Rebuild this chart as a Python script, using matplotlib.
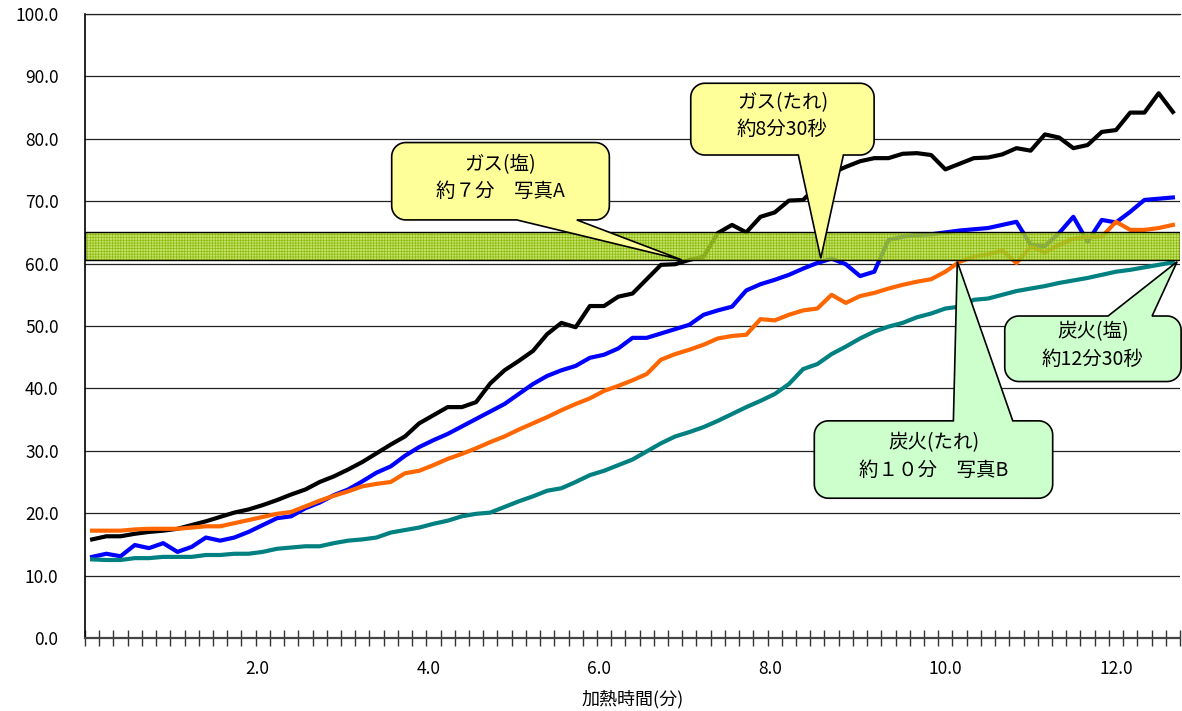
import numpy as np
import matplotlib
matplotlib.use("Agg")
import matplotlib.pyplot as plt
import matplotlib.transforms as mtransforms
from matplotlib.patches import Rectangle, Polygon

plt.rcParams['font.family'] = ['Noto Sans CJK JP', 'DejaVu Sans']
plt.rcParams['hatch.linewidth'] = 0.5

# 10秒ごとの測定 (分)
n_pts = 77
t = np.arange(n_pts) / 6.0

gas_shio = [15.8, 16.3, 16.3, 16.7, 17.0, 17.2, 17.5, 18.1, 18.7, 19.4,
            20.1, 20.6, 21.3, 22.1, 23.0, 23.8, 25.0, 25.9, 27.0, 28.2,
            29.6, 31.0, 32.3, 34.4, 35.7, 37.0, 37.0, 37.8, 40.8, 42.9,
            44.4, 46.0, 48.7, 50.5, 49.8, 53.2, 53.2, 54.7, 55.2, 57.5,
            59.8, 59.9, 60.6, 61.1, 64.9, 66.2, 65.0, 67.5, 68.2, 70.1,
            70.2, 72.5, 74.5, 75.5, 76.4, 76.9, 76.9, 77.6, 77.7, 77.4,
            75.1, 76.0, 76.9, 77.0, 77.5, 78.5, 78.1, 80.7, 80.2, 78.5,
            79.0, 81.1, 81.4, 84.2, 84.2, 87.3, 84.3]

gas_tare = [13.0, 13.5, 13.1, 14.9, 14.4, 15.2, 13.8, 14.6, 16.1, 15.6,
            16.1, 17.0, 18.1, 19.2, 19.5, 20.8, 21.7, 22.9, 23.8, 25.1,
            26.5, 27.5, 29.2, 30.6, 31.7, 32.7, 33.9, 35.1, 36.3, 37.5,
            39.1, 40.7, 42.0, 42.9, 43.6, 44.9, 45.4, 46.4, 48.1, 48.1,
            48.8, 49.5, 50.2, 51.8, 52.5, 53.1, 55.7, 56.7, 57.4, 58.2,
            59.2, 60.1, 60.8, 59.9, 58.0, 58.7, 63.8, 64.3, 64.6, 64.7,
            65.0, 65.3, 65.5, 65.7, 66.2, 66.7, 63.0, 62.8, 64.9, 67.5,
            63.5, 67.0, 66.6, 68.3, 70.2, 70.4, 70.6]

sumi_tare = [17.2, 17.2, 17.2, 17.4, 17.5, 17.5, 17.5, 17.7, 17.9, 17.9,
             18.4, 18.9, 19.4, 19.9, 20.2, 21.1, 22.0, 22.8, 23.5, 24.3,
             24.7, 25.0, 26.4, 26.8, 27.7, 28.7, 29.5, 30.4, 31.4, 32.3,
             33.4, 34.4, 35.4, 36.5, 37.5, 38.4, 39.6, 40.4, 41.3, 42.3,
             44.6, 45.5, 46.2, 47.0, 48.0, 48.4, 48.6, 51.1, 50.9, 51.8,
             52.5, 52.8, 55.0, 53.7, 54.8, 55.3, 56.0, 56.6, 57.1, 57.5,
             58.7, 60.3, 61.1, 61.5, 62.1, 60.1, 62.7, 61.8, 63.0, 64.0,
             64.3, 64.3, 66.7, 65.4, 65.4, 65.7, 66.2]

sumi_shio = [12.6, 12.5, 12.5, 12.8, 12.8, 13.0, 13.0, 13.0, 13.3, 13.3,
             13.5, 13.5, 13.8, 14.3, 14.5, 14.7, 14.7, 15.2, 15.6, 15.8,
             16.1, 16.9, 17.3, 17.7, 18.3, 18.8, 19.5, 19.9, 20.1, 21.0,
             21.9, 22.7, 23.6, 24.0, 25.0, 26.1, 26.8, 27.7, 28.6, 29.9,
             31.2, 32.3, 33.0, 33.8, 34.8, 35.9, 37.0, 38.0, 39.1, 40.7,
             43.1, 43.9, 45.5, 46.7, 48.0, 49.1, 49.9, 50.5, 51.4, 52.0,
             52.8, 53.1, 54.2, 54.4, 55.0, 55.6, 56.0, 56.4, 56.9, 57.3,
             57.7, 58.2, 58.7, 59.0, 59.4, 59.8, 60.2]

x_labels = [2.0, 4.0, 6.0, 8.0, 10.0, 12.0]
band_lo, band_hi = 60.5, 65.1

# 吹き出し: 箱(x0, x1, y0, y1), 付け根(b0, b1), 先端, 付け根の辺, 文字, 色
callouts = [
    ((3.511, 6.062, 67.0, 79.4), (4.977, 5.680), (6.91, 60.6), 'bottom',
     'ガス(塩)\n約７分　写真A', '#ffff99'),
    ((7.016, 9.165, 77.4, 88.9), (8.277, 8.805), (8.54, 60.85), 'bottom',
     'ガス(たれ)\n約8分30秒', '#ffff99'),
    ((8.464, 11.258, 22.4, 34.8), (10.094, 10.79), (10.14, 60.3), 'top',
     '炭火(たれ)\n約１０分　写真B', '#ccffcc'),
    ((10.696, 12.763, 41.1, 51.6), (11.907, 12.423), (12.716, 60.3), 'top',
     '炭火(塩)\n約12分30秒', '#ccffcc'),
]

fig = plt.figure(figsize=(11.82, 7.11), dpi=100)
ax = fig.add_axes([85 / 1182, 73 / 711, 1095 / 1182, 624 / 711])

xmin, xmax = -0.5 / 6, (n_pts - 0.5) / 6
ax.set_xlim(xmin, xmax)
ax.set_ylim(0, 100)

ax.plot(t, gas_shio, color='black', lw=3, zorder=2)
ax.plot(t, gas_tare, color='#0000ff', lw=3, zorder=2)
ax.plot(t, sumi_tare, color='#ff6600', lw=3, zorder=2)
ax.plot(t, sumi_shio, color='#008080', lw=3, zorder=2)

# 60-65 の帯
ax.add_patch(Rectangle((xmin, band_lo), xmax - xmin, band_hi - band_lo,
                       facecolor='#b5d838', edgecolor='none', alpha=0.75, zorder=3))
ax.add_patch(Rectangle((xmin, band_lo), xmax - xmin, band_hi - band_lo,
                       fill=False, hatch='++++++', edgecolor='#8cbc10', lw=0, zorder=3))
ax.add_patch(Rectangle((xmin, band_lo), xmax - xmin, band_hi - band_lo,
                       fill=False, edgecolor='black', lw=1.0, zorder=3))

# 軸
ax.set_yticks(np.arange(0, 101, 10))
ax.set_yticklabels([f'{v:.1f}' for v in np.arange(0, 101, 10)], fontsize=12.5)
ax.tick_params(axis='y', length=0, pad=19)
ax.yaxis.grid(True, color='#222222', lw=0.9)
ax.set_axisbelow(True)

ax.set_xticks(x_labels)
ax.set_xticklabels([f'{v:.1f}' for v in x_labels], fontsize=12.5)
ax.set_xticks((np.arange(n_pts + 1) - 0.5) / 6, minor=True)
ax.tick_params(axis='x', which='major', length=0, pad=16)
ax.tick_params(axis='x', which='minor', direction='inout', length=11,
               width=1, color='#333333')
for v, lab in zip(x_labels, ax.get_xticklabels()):
    if v < 10:
        lab.set_transform(lab.get_transform() +
                          mtransforms.ScaledTranslation(-5 / 100, 0, fig.dpi_scale_trans))

ax.spines['right'].set_visible(False)
ax.spines['top'].set_color('#222222')
ax.spines['top'].set_linewidth(0.9)
ax.spines['left'].set_color('black')
ax.spines['left'].set_linewidth(1.2)
ax.spines['bottom'].set_color('#444444')
ax.spines['bottom'].set_linewidth(1.6)

fig.text(632.5 / 1182, 1 - 699 / 711, '加熱時間(分)', ha='center', va='center',
         fontsize=13)

# 吹き出し
px_x = 1095 / (xmax - xmin)
px_y = 624 / 100.0
R = 14
rx, ry = R / px_x, R / px_y


def arc(pts, cx, cy, a0, a1):
    for a in np.linspace(a0, a1, 12):
        pts.append((cx + rx * np.cos(a), cy + ry * np.sin(a)))


for (x0, x1, y0, y1), (b0, b1), tip, side, text, fc in callouts:
    pts = []
    arc(pts, x0 + rx, y1 - ry, np.pi, np.pi / 2)
    if side == 'top':
        pts += [(b0, y1), tip, (b1, y1)]
    arc(pts, x1 - rx, y1 - ry, np.pi / 2, 0)
    arc(pts, x1 - rx, y0 + ry, 0, -np.pi / 2)
    if side == 'bottom':
        pts += [(b1, y0), tip, (b0, y0)]
    arc(pts, x0 + rx, y0 + ry, -np.pi / 2, -np.pi)
    ax.add_patch(Polygon(pts, closed=True, facecolor=fc, edgecolor='black',
                         lw=1.2, zorder=6, clip_on=False))
    ax.text((x0 + x1) / 2, (y0 + y1) / 2 + 0.5, text, ha='center', va='center',
            multialignment='center', fontsize=14, linespacing=1.4, zorder=7)

fig.savefig('out.png', dpi=100)
